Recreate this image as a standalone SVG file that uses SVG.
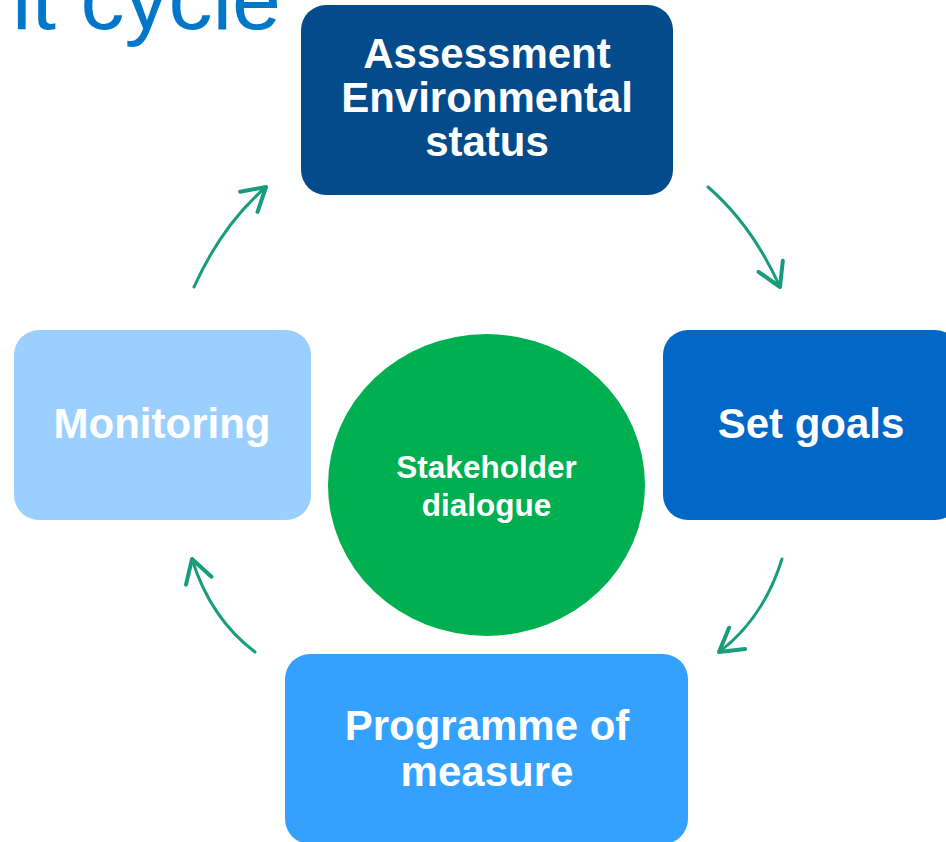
<svg xmlns="http://www.w3.org/2000/svg" width="946" height="842" viewBox="0 0 946 842">
  <defs>
    <style>
      .box-text { font-family: "Liberation Sans", Arial, sans-serif; font-weight: bold; font-size: 42px; fill: #ffffff; text-anchor: middle; }
      .center-text { font-family: "Liberation Sans", Arial, sans-serif; font-weight: bold; font-size: 31.5px; fill: #ffffff; text-anchor: middle; }
      .title { font-family: "Liberation Sans", Arial, sans-serif; font-size: 88px; fill: #0077c8; }
      .conn { fill: none; stroke: #179c7d; stroke-width: 3; stroke-linecap: round; marker-end: url(#arrow); }
    </style>
    <marker id="arrow" markerUnits="userSpaceOnUse" markerWidth="40" markerHeight="40" viewBox="-20 -15 24 30" refX="0" refY="0" orient="auto">
      <path d="M-17,-10 L0,0 L-17,10" fill="none" stroke="#179c7d" stroke-width="3" stroke-linecap="round" stroke-linejoin="round"/>
    </marker>
  </defs>
  <rect width="946" height="842" fill="#ffffff"/>

  <text class="title" x="12" y="29">it cycle</text>

  <g id="node-assessment">
    <rect x="301" y="5" width="372" height="190" rx="25" fill="#034b8b"/>
    <text class="box-text" x="487" y="68">Assessment</text>
    <text class="box-text" x="487" y="112">Environmental</text>
    <text class="box-text" x="487" y="156">status</text>
  </g>

  <g id="node-setgoals">
    <rect x="663" y="330" width="297" height="190" rx="25" fill="#0168c8"/>
    <text class="box-text" x="811" y="438">Set goals</text>
  </g>

  <g id="node-programme">
    <rect x="285" y="654" width="403" height="190" rx="25" fill="#33a1fd"/>
    <text class="box-text" x="487" y="740">Programme of</text>
    <text class="box-text" x="487" y="786">measure</text>
  </g>

  <g id="node-monitoring">
    <rect x="14" y="330" width="297" height="190" rx="25" fill="#9bcfff"/>
    <text class="box-text" x="162" y="438">Monitoring</text>
  </g>

  <g id="node-stakeholder">
    <ellipse cx="486.5" cy="485" rx="158.5" ry="151" fill="#00b050"/>
    <text class="center-text" x="486.5" y="478">Stakeholder</text>
    <text class="center-text" x="486.5" y="516">dialogue</text>
  </g>

  <g id="connectors">
    <path class="conn" d="M708,187 Q752,225 780,287"/>
    <path class="conn" d="M782,559 Q763.5,618.5 719,652"/>
    <path class="conn" d="M255,652 Q210.5,618.5 192,559"/>
    <path class="conn" d="M194,287 Q222,225 266,187"/>
  </g>
</svg>
